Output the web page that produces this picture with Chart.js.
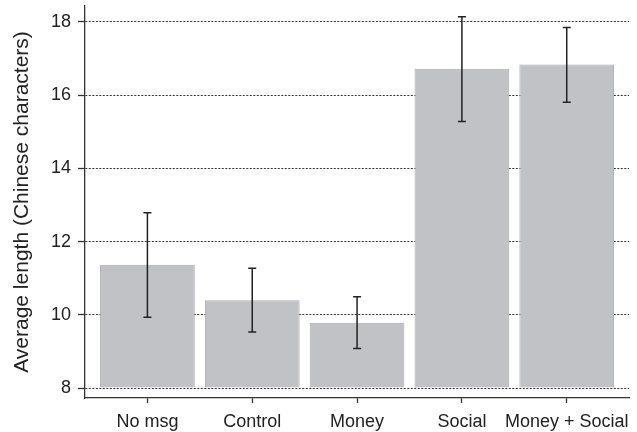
<!DOCTYPE html>
<html><head><meta charset="utf-8">
<script src="https://cdn.jsdelivr.net/npm/chart.js@4/dist/chart.umd.min.js"></script>
<style>html,body{margin:0;padding:0;background:#fff}#wrap{width:637px;height:432px;position:relative}</style>
</head><body><div id="wrap"><canvas id="c"></canvas></div>
<script>
const categories = ['No msg', 'Control', 'Money', 'Social', 'Money + Social'];
const xPositions = [1, 2, 3, 4, 5];
const means = [11.37, 10.40, 9.78, 16.72, 16.84];
const errLow = [9.93, 9.53, 9.08, 15.28, 15.81];
const errHigh = [12.79, 11.27, 10.49, 18.14, 17.85];
const yTicks = [8, 10, 12, 14, 16, 18];
const yTitle = 'Average length (Chinese characters)';

const FONT = "'Liberation Sans', Arial, Helvetica, sans-serif";
const INK = '#222222';

const errorBars = {
  id: 'errorBars',
  afterDatasetsDraw(chart) {
    const ctx = chart.ctx;
    const y = chart.scales.y;
    const meta = chart.getDatasetMeta(0);
    ctx.save();
    ctx.strokeStyle = '#222';
    ctx.lineWidth = 1.5;
    meta.data.forEach((el, i) => {
      const x = el.x;
      const yh = y.getPixelForValue(errHigh[i]);
      const yl = y.getPixelForValue(errLow[i]);
      ctx.beginPath();
      ctx.moveTo(x, yh); ctx.lineTo(x, yl);
      ctx.moveTo(x - 4, yh); ctx.lineTo(x + 4, yh);
      ctx.moveTo(x - 4, yl); ctx.lineTo(x + 4, yl);
      ctx.stroke();
    });
    ctx.restore();
  }
};

new Chart(document.getElementById('c'), {
  type: 'bar',
  data: {
    datasets: [{
      data: xPositions.map((x, i) => ({ x: x, y: means[i] })),
      base: 8,
      backgroundColor: '#c1c2c6',
      borderColor: '#a9aaae',
      borderWidth: 1,
      categoryPercentage: 1,
      barPercentage: 0.9036
    }]
  },
  options: {
    responsive: true,
    maintainAspectRatio: false,
    animation: false,
    devicePixelRatio: 1,
    layout: { padding: { left: 0, right: 8, top: 6, bottom: 0 } },
    plugins: { legend: { display: false }, tooltip: { enabled: false } },
    scales: {
      x: {
        type: 'linear',
        offset: false,
        min: 0.4046,
        max: 5.594,
        afterBuildTicks: s => { s.ticks = xPositions.map(v => ({ value: v })); },
        afterFit: s => { s.height = 34; s.paddingLeft = 0; s.paddingRight = 0; },
        ticks: {
          autoSkip: false,
          maxRotation: 0,
          padding: 8,
          color: INK,
          font: { family: FONT, size: 18 },
          callback: v => categories[xPositions.indexOf(v)]
        },
        grid: { offset: false, drawOnChartArea: false, drawTicks: true, tickLength: 5, tickColor: '#333', tickWidth: 1.3 },
        border: { display: true, color: '#333', width: 1.3 }
      },
      y: {
        min: 7.727,
        max: 18.437,
        afterBuildTicks: s => { s.ticks = yTicks.map(v => ({ value: v })); },
        afterFit: s => { s.width = 85; s.paddingTop = 0; s.paddingBottom = 0; },
        ticks: {
          padding: 7,
          color: INK,
          font: { family: FONT, size: 18 }
        },
        grid: { color: '#333', lineWidth: 1, drawTicks: true, tickLength: 7, tickColor: '#333', tickWidth: 1.3, tickBorderDash: [] },
        border: { display: true, color: '#333', width: 1.3, dash: [2, 1.5] },
        title: {
          display: true,
          text: yTitle,
          color: INK,
          font: { family: FONT, size: 21 },
          padding: { top: 9.5, bottom: 0 }
        }
      }
    }
  },
  plugins: [errorBars]
});
</script>
</body></html>
